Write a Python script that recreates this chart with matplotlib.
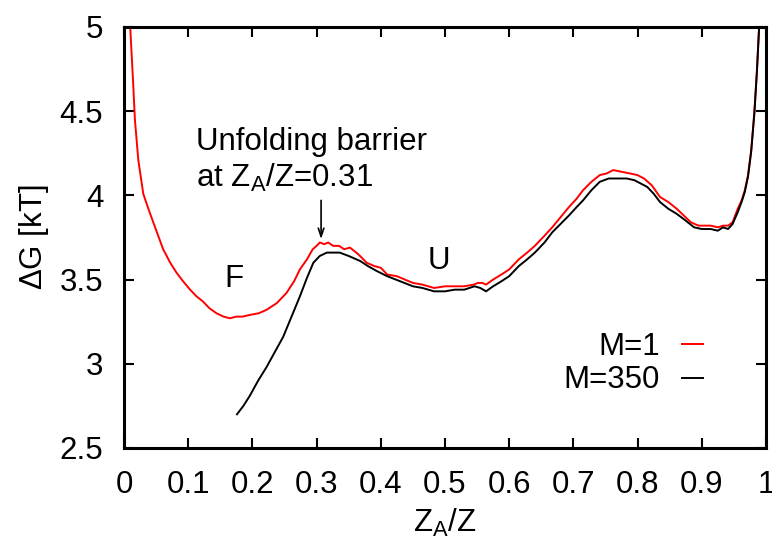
import matplotlib
matplotlib.use("Agg")
import matplotlib.pyplot as plt

plt.rcParams['font.family'] = ['Liberation Sans', 'DejaVu Sans']
plt.rcParams['mathtext.default'] = 'regular'

# M=1 (red)
x_m1 = [0.009, 0.0145, 0.017, 0.0223, 0.030, 0.038, 0.0456, 0.061, 0.072, 0.082, 0.092,
        0.103, 0.113, 0.123, 0.133, 0.144, 0.155, 0.165, 0.175, 0.185, 0.196, 0.21, 0.222, 0.238,
        0.253, 0.265, 0.274, 0.285, 0.294, 0.300, 0.305, 0.312, 0.318, 0.326, 0.335, 0.343,
        0.352, 0.365, 0.378, 0.39, 0.40, 0.41, 0.425, 0.45, 0.465, 0.483, 0.50, 0.515, 0.53,
        0.545, 0.551, 0.558, 0.564, 0.575, 0.588, 0.60, 0.615, 0.628, 0.64, 0.655, 0.667,
        0.68, 0.693, 0.705, 0.715, 0.728, 0.741, 0.752, 0.762, 0.775, 0.788, 0.80, 0.81,
        0.822, 0.835, 0.848, 0.861, 0.872, 0.883, 0.895, 0.905, 0.914, 0.925, 0.933, 0.941,
        0.948, 0.956, 0.962, 0.967, 0.972, 0.977, 0.982, 0.986, 0.990]
y_m1 = [5.05, 4.65, 4.45, 4.21, 4.01, 3.92, 3.84, 3.68, 3.60, 3.54, 3.49,
        3.44, 3.40, 3.37, 3.33, 3.30, 3.28, 3.27, 3.28, 3.28, 3.29, 3.30, 3.32, 3.36,
        3.42, 3.49, 3.56, 3.62, 3.68, 3.70, 3.72, 3.71, 3.72, 3.70, 3.70, 3.68,
        3.69, 3.65, 3.60, 3.58, 3.57, 3.53, 3.52, 3.48, 3.47, 3.45, 3.46, 3.46, 3.46,
        3.47, 3.48, 3.48, 3.47, 3.50, 3.53, 3.56, 3.62, 3.66, 3.70, 3.76, 3.81,
        3.87, 3.93, 3.98, 4.03, 4.08, 4.12, 4.13, 4.15, 4.14, 4.13, 4.12, 4.10,
        4.06, 3.99, 3.96, 3.92, 3.88, 3.84, 3.82, 3.82, 3.82, 3.81, 3.82, 3.82,
        3.84, 3.92, 3.97, 4.03, 4.12, 4.27, 4.50, 4.75, 5.05]

# M=350 (black)
x_m350 = [0.176, 0.186, 0.196, 0.209, 0.222, 0.235, 0.248, 0.261, 0.274, 0.285, 0.295,
          0.305, 0.316, 0.326, 0.336, 0.35, 0.368, 0.38, 0.394, 0.41, 0.43, 0.45, 0.465,
          0.483, 0.50, 0.515, 0.53, 0.546, 0.555, 0.564, 0.575, 0.588, 0.60, 0.615, 0.628,
          0.64, 0.655, 0.667, 0.68, 0.693, 0.705, 0.715, 0.728, 0.741, 0.755, 0.77, 0.783,
          0.795, 0.805, 0.815, 0.825, 0.835, 0.848, 0.861, 0.875, 0.888, 0.90, 0.914, 0.925,
          0.933, 0.941, 0.948, 0.956, 0.962, 0.967, 0.972, 0.977, 0.982, 0.986, 0.990]
y_m350 = [2.70, 2.75, 2.81, 2.90, 2.98, 3.07, 3.16, 3.28, 3.40, 3.51, 3.60,
          3.64, 3.66, 3.66, 3.66, 3.64, 3.61, 3.58, 3.55, 3.52, 3.49, 3.46, 3.45,
          3.43, 3.43, 3.44, 3.44, 3.46, 3.45, 3.43, 3.46, 3.49, 3.52, 3.58, 3.62,
          3.66, 3.72, 3.78, 3.83, 3.88, 3.93, 3.97, 4.03, 4.08, 4.10, 4.10, 4.10,
          4.09, 4.07, 4.05, 4.01, 3.96, 3.92, 3.89, 3.85, 3.81, 3.80, 3.80, 3.79,
          3.81, 3.80, 3.83, 3.90, 3.96, 4.02, 4.11, 4.26, 4.49, 4.74, 5.05]

xticks = [0, 0.1, 0.2, 0.3, 0.4, 0.5, 0.6, 0.7, 0.8, 0.9, 1]
xtick_labels = ['0', '0.1', '0.2', '0.3', '0.4', '0.5', '0.6', '0.7', '0.8', '0.9', '1']
yticks = [2.5, 3, 3.5, 4, 4.5, 5]
ytick_labels = ['2.5', '3', '3.5', '4', '4.5', '5']

fs = 22.5

fig = plt.figure(figsize=(7.72, 5.49), dpi=100)
ax = fig.add_axes([0.1606, 0.184, 0.8316, 0.767])

ax.plot(x_m1, y_m1, color='#ff0000', lw=1.4, label='M=1')
ax.plot(x_m350, y_m350, color='black', lw=1.4, label='M=350')

ax.set_xlim(0, 1)
ax.set_ylim(2.5, 5)
ax.set_xticks(xticks)
ax.set_xticklabels(xtick_labels)
ax.set_yticks(yticks)
ax.set_yticklabels(ytick_labels)
ax.tick_params(direction='in', length=7, width=1.5, top=True, right=True,
               labelsize=fs)
ax.tick_params(axis='x', pad=16)
ax.tick_params(axis='y', pad=15)
for s in ax.spines.values():
    s.set_linewidth(2.2)

ax.set_xlabel('Z$_A$/Z', fontsize=fs, labelpad=5)
ax.set_ylabel(r'$\Delta$G [kT]', fontsize=fs, labelpad=6)

# annotations
ax.text(0.112, 4.27, 'Unfolding barrier', fontsize=fs, va='baseline', ha='left')
ax.text(0.112, 4.05, 'at Z$_A$/Z=0.31', fontsize=fs, va='baseline', ha='left')
ax.annotate('', xy=(0.307, 3.74), xytext=(0.307, 3.97),
            arrowprops=dict(arrowstyle='->,head_length=0.6,head_width=0.2',
                            color='black', lw=1.2, shrinkA=0, shrinkB=0))
ax.text(0.172, 3.456, 'F', fontsize=fs, ha='center', va='baseline')
ax.text(0.49, 3.563, 'U', fontsize=fs, ha='center', va='baseline')

ax.legend(loc='lower right', bbox_to_anchor=(0.922, 0.095), frameon=False,
          markerfirst=False, fontsize=fs, handlelength=0.7, handletextpad=0.7,
          labelspacing=0.1, borderaxespad=0)

fig.savefig('out.png', dpi=100)
